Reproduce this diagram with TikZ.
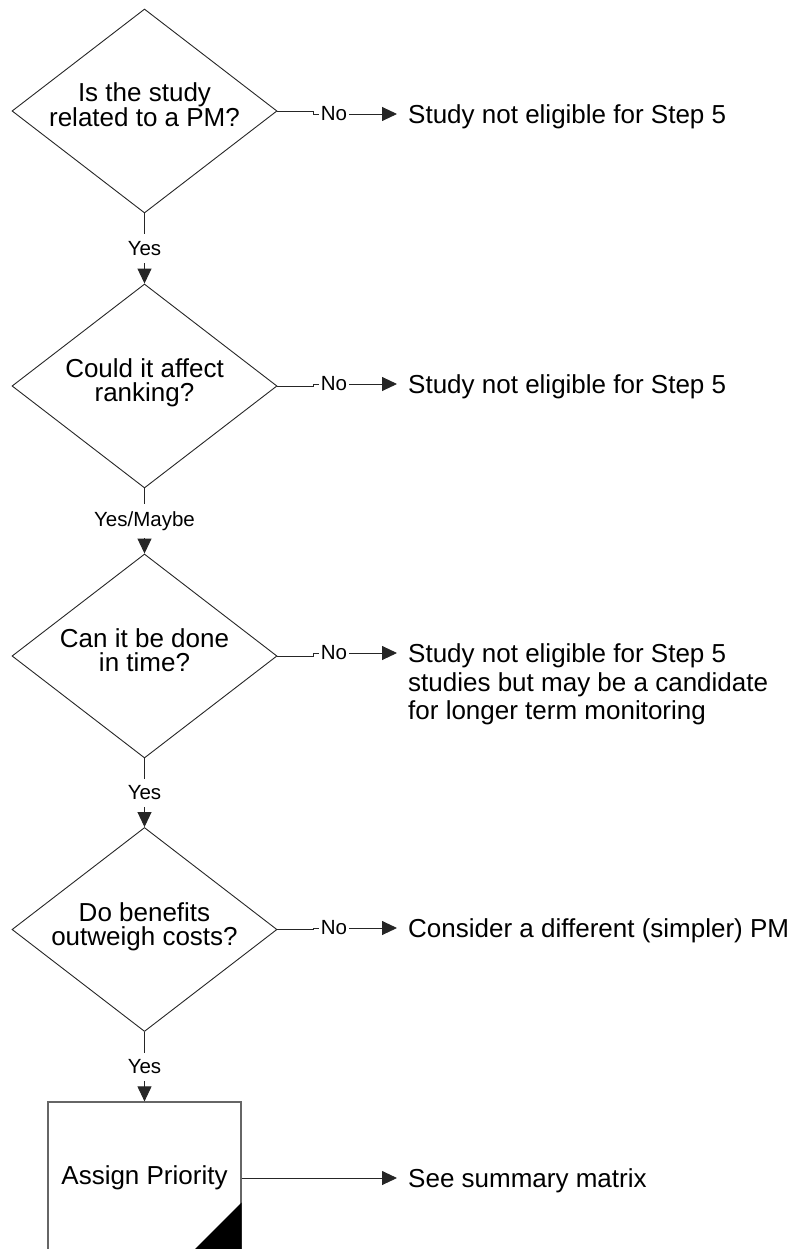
\documentclass[tikz,border=0pt]{standalone}
\usepackage{fontspec}
\setmainfont{Liberation Sans}
\usetikzlibrary{shapes.geometric,arrows.meta}
\begin{document}
\begin{tikzpicture}[x=1pt,y=-1pt,
  dec/.style={draw=black!85, line width=0.9pt, diamond, minimum width=265pt, minimum height=204pt, inner sep=0pt},
  dtext/.style={align=center, font=\fontsize{26}{24}\selectfont, anchor=base, inner sep=0pt},
  rtext/.style={align=left, font=\fontsize{26}{28.5}\selectfont, anchor=base west, inner sep=0pt},
  lab/.style={fill=white, font=\fontsize{20.5}{22}\selectfont, inner xsep=2pt, inner ysep=7pt},
  conn/.style={draw=black!85, line width=0.9pt},
  arr/.style={conn, -{Triangle[length=15pt,width=14pt]}},
  pbox/.style={draw=black!60, line width=1.2pt, minimum width=193pt, minimum height=152pt, inner sep=0pt, font=\fontsize{26}{28}\selectfont}
]
\useasboundingbox (0,0) rectangle (798,1249);
\clip (0,0) rectangle (798,1249);

% decisions
\node[dec] (d1) at (144.5,111) {};
\node[dtext] (d1t) at (144.5,127) {Is the study\\related to a PM?};
\node[dec] (d2) at (144.5,386) {};
\node[dtext] (d2t) at (144.5,401) {Could it affect\\ranking?};
\node[dec] (d3) at (144.5,656) {};
\node[dtext] (d3t) at (144.5,671) {Can it be done\\in time?};
\node[dec] (d4) at (144.5,929.5) {};
\node[dtext] (d4t) at (144.5,945) {Do benefits\\outweigh costs?};

% process box
\node[pbox] (box) at (144.5,1178) {Assign Priority};
\fill[black] (box.south east) -- ++(0,-52) -- ++(-52,52) -- cycle;

% arrow end points
\coordinate (a1) at (397,114);
\coordinate (a2) at (397,384);
\coordinate (a3) at (397,653);
\coordinate (a4) at (397,928);
\coordinate (a5) at (397,1178);

% right side texts
\node[rtext] (t1) at (408,123.5) {Study not eligible for Step 5};
\node[rtext] (t2) at (408,393.5) {Study not eligible for Step 5};
\node[rtext] (t3) at (408,719.5) {Study not eligible for Step 5\\studies but may be a candidate\\for longer term monitoring};
\node[rtext] (t4) at (408,937.5) {Consider a different (simpler) PM};
\node[rtext] (t5) at (408,1187.5) {See summary matrix};

% No connectors
\draw[arr] (d1.east) -- ++(36,0) -- ++(0,3) -- (a1);
\draw[arr] (d2.east) -- ++(36,0) -- ++(0,-2) -- (a2);
\draw[arr] (d3.east) -- ++(36,0) -- ++(0,-3) -- (a3);
\draw[arr] (d4.east) -- ++(36,0) -- ++(0,-1.5) -- (a4);
\draw[arr] (box.east) -- (a5);
\node[lab] (n1) at (334,114) {No};
\node[lab] (n2) at (334,384) {No};
\node[lab] (n3) at (334,653) {No};
\node[lab] (n4) at (334,928) {No};

% Yes connectors
\draw[arr] (d1.south) -- node[lab] (y1) {Yes} (d2.north);
\draw[arr] (d2.south) -- node[lab] (y2) {Yes/Maybe} (d3.north);
\draw[arr] (d3.south) -- node[lab] (y3) {Yes} (d4.north);
\draw[arr] (d4.south) -- node[lab] (y4) {Yes} (box.north);
\end{tikzpicture}
\end{document}
